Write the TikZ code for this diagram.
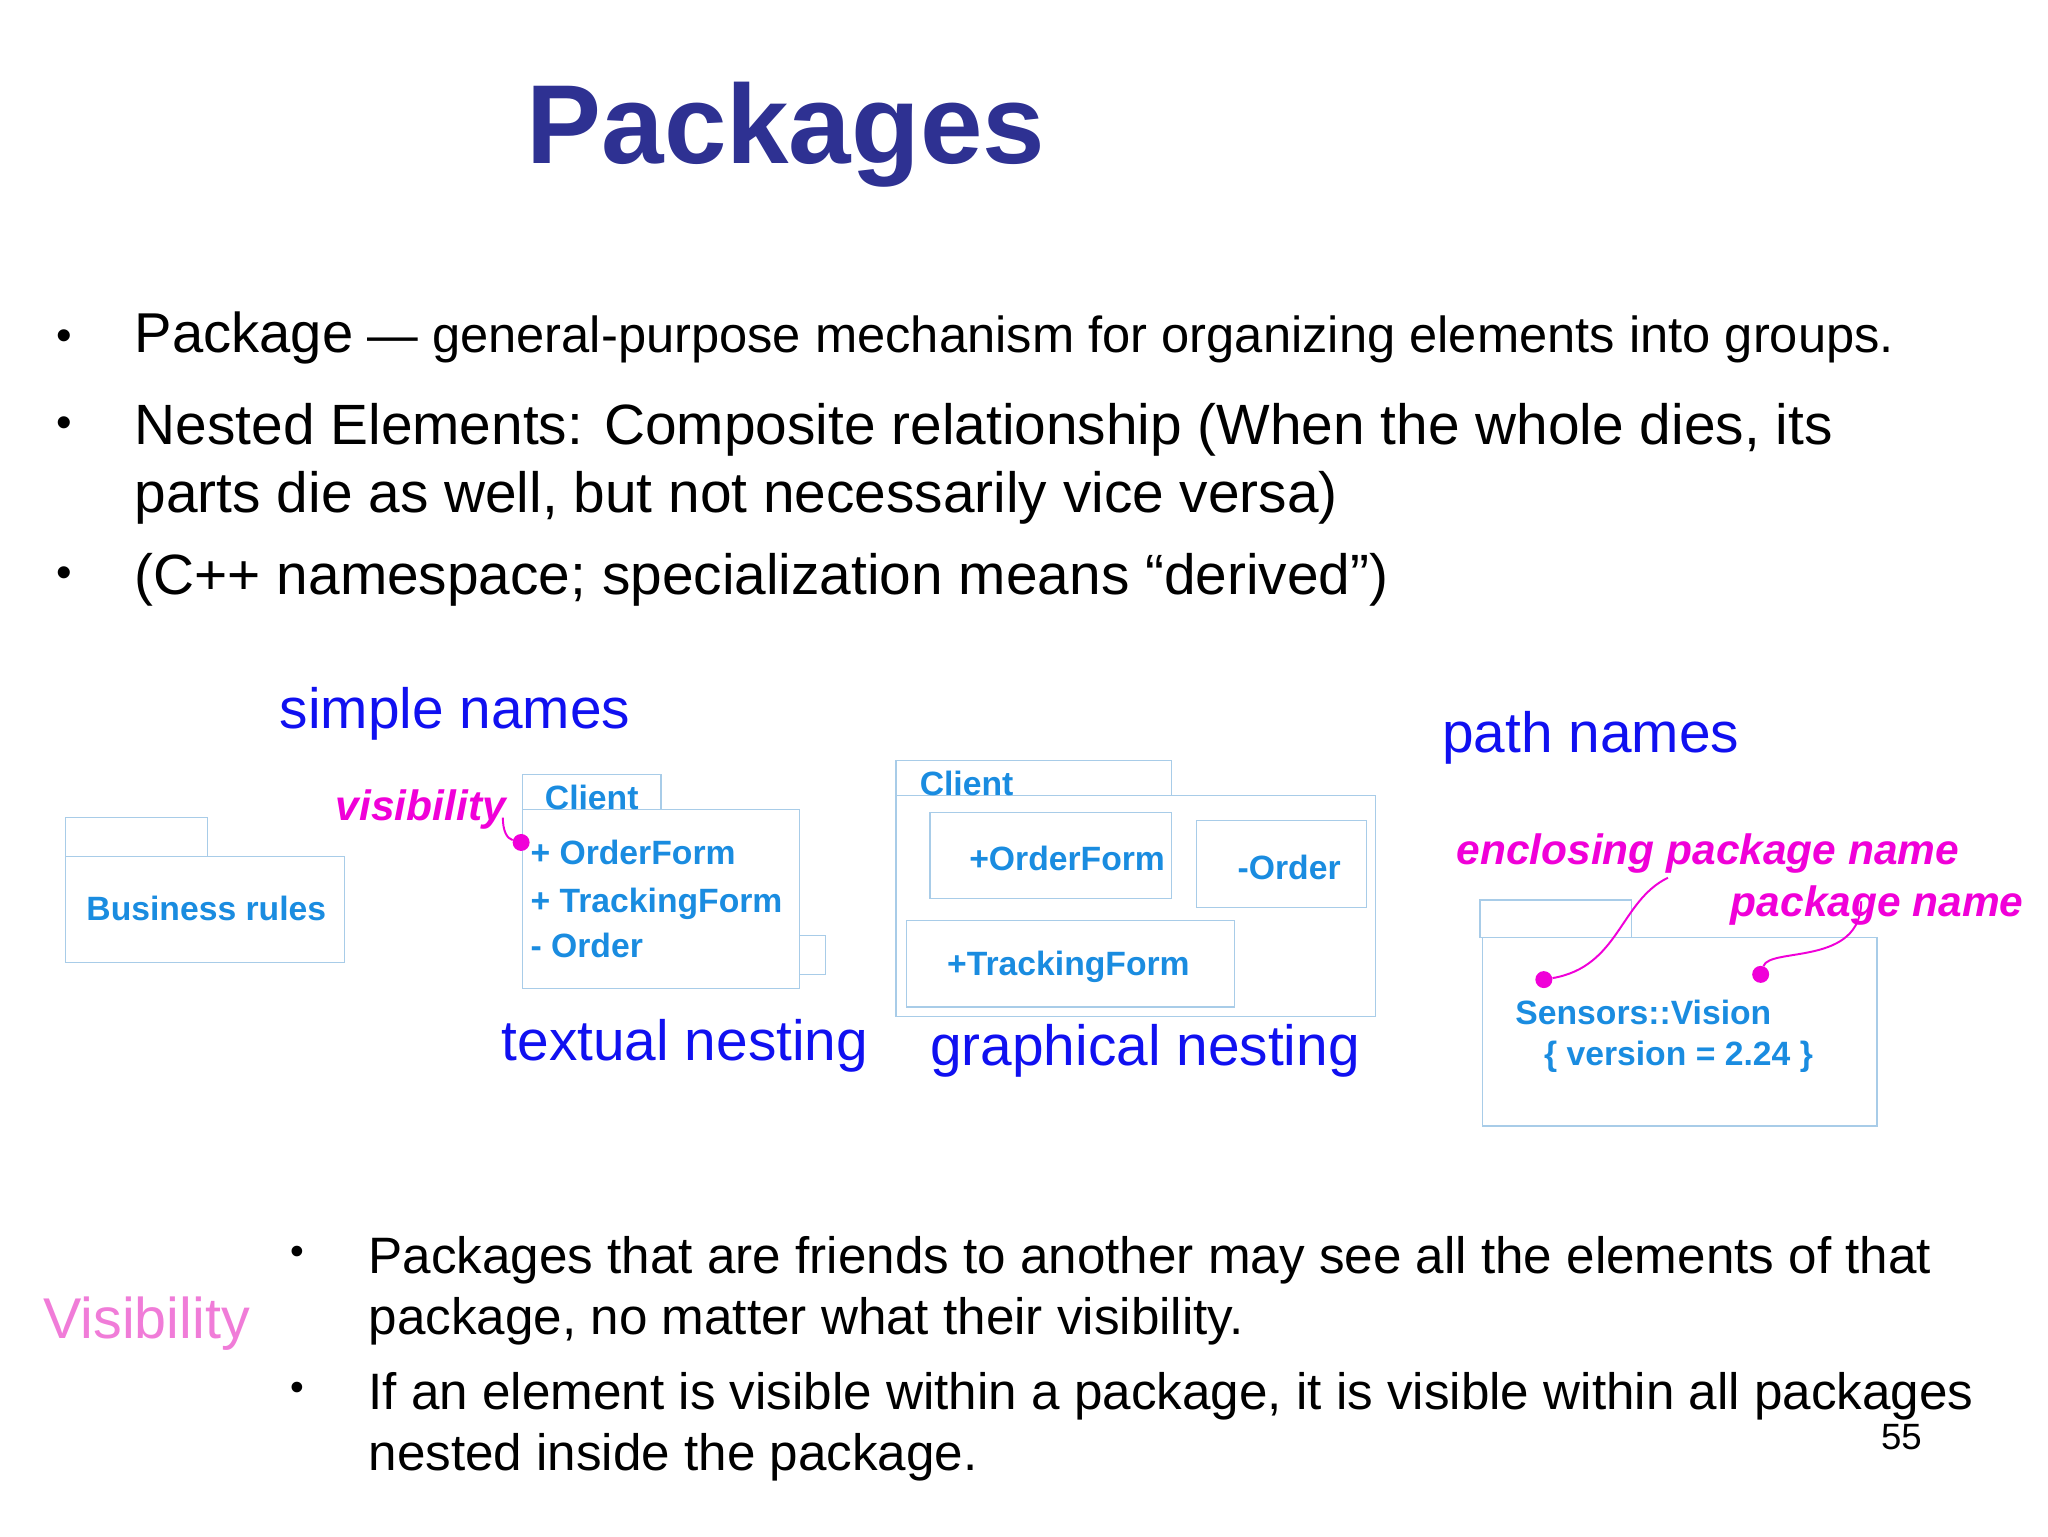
\documentclass[tikz,border=0pt]{standalone}
\usepackage{fontspec}
\setmainfont{Liberation Sans}
\definecolor{ttl}{HTML}{2E3192}
\definecolor{lbl}{HTML}{1010F0}
\definecolor{pk}{HTML}{A8CCE8}
\definecolor{ptxt}{HTML}{1A8CE0}
\definecolor{mag}{HTML}{F000D8}
\definecolor{vis}{HTML}{F07CD8}
\tikzset{
 t/.style={anchor=base west,inner sep=0pt},
 box/.style={draw=pk,line width=1pt},
 ptext/.style={t,text=ptxt,font=\fontsize{25.8}{30}\selectfont\bfseries},
 lab/.style={t,text=lbl,font=\fontsize{43.5}{48}\selectfont},
 mlab/.style={t,text=mag,font=\fontsize{32.5}{36}\selectfont\bfseries\itshape},
 body/.style={t,font=\fontsize{43.5}{50}\selectfont},
 body2/.style={t,font=\fontsize{39.2}{46}\selectfont},
 dot/.style={circle,fill=mag,inner sep=0pt,minimum size=13pt},
 conn/.style={mag,line width=1.5pt}
}
\begin{document}
\begin{tikzpicture}[x=1pt,y=-1pt]
\useasboundingbox (0,0) rectangle (1568,1176);
\node[t,text=ttl,font=\fontsize{86}{90}\selectfont\bfseries] (title) at (403,125) {Packages};
% bullets
\foreach \y in {268,335,450} \node[t,font=\fontsize{34}{34}\selectfont] at (43,\y) {•};
\node[t,font=\fontsize{43}{50}\selectfont] (b1) at (103,270) {Package\fontsize{38.8}{40}\selectfont{} — general-purpose mechanism for organizing elements into groups.};
\node[body] (b2) at (103,340) {Nested Elements: Composite relationship (When the whole dies, its};
\node[body] (b2b) at (103,392) {parts die as well, but not necessarily vice versa)};
\node[body] (b3) at (103,455) {(C++ namespace; specialization means “derived”)};
% labels
\node[lab] (sn) at (214,558) {simple names};
\node[lab] (pn) at (1104,576) {path names};
\node[lab] (tn) at (384,812) {textual nesting};
\node[lab] (gn) at (712,816) {graphical nesting};
% business rules
\draw[box] (50,626) rectangle (159,656);
\draw[box] (50,656) rectangle (264,737);
\node[ptext] (br) at (66,705) {Business rules};
% client textual
\draw[box] (400,593) rectangle (506,620);
\draw[box] (400,620) rectangle (612,757);
\draw[box] (612,716) rectangle (632,746);
\node[ptext] (c1) at (417,620) {Client};
\node[ptext] (of1) at (406,662) {+ OrderForm};
\node[ptext] (tf1) at (406,699) {+ TrackingForm};
\node[ptext] (o1) at (406,733) {- Order};
\node[mlab] (vl) at (257,628) {visibility};
\node[dot] (d1) at (399,645) {};
\draw[conn] (d1) .. controls (388,642) and (385,636) .. (385,626);
% graphical
\draw[box] (686,582) rectangle (897,609);
\draw[box] (686,609) rectangle (1053,778);
\node[ptext] (c2) at (704,609) {Client};
\draw[box] (712,622) rectangle (897,688);
\node[ptext,anchor=center] (of2) at (817,657) {+OrderForm};
\draw[box] (916,628) rectangle (1046,695);
\node[ptext,anchor=center] (o2) at (987,664) {-Order};
\draw[box] (694,705) rectangle (945,771);
\node[ptext,anchor=center] (tf2) at (818,740) {+TrackingForm};
% path names
\draw[box] (1133,689) rectangle (1249,718);
\draw[box] (1135,718) rectangle (1437,862);
\node[ptext] (sv) at (1160,784) {Sensors::Vision};
\node[ptext] (ver) at (1182,816) {\{ version = 2.24 \}};
\node[mlab] (epn) at (1115,662) {enclosing package name};
\node[mlab] (pkn) at (1325,702) {package name};
\node[dot] (d2) at (1182,750) {};
\node[dot] (d3) at (1348,746) {};
\draw[conn] (d2) .. controls (1240,740) and (1240,690) .. (1277,672);
\draw[conn] (d3) .. controls (1355,725) and (1425,740) .. (1425,690);
% visibility
\node[t,text=vis,font=\fontsize{44}{50}\selectfont] (vv) at (33,1025) {Visibility};
\foreach \y in {968,1072} \node[t,font=\fontsize{30}{30}\selectfont] at (222,\y) {•};
\node[body2] at (282,975) {Packages that are friends to another may see all the elements of that};
\node[body2] at (282,1022) {package, no matter what their visibility.};
\node[body2] at (282,1079) {If an element is visible within a package, it is visible within all packages};
\node[body2] at (282,1126) {nested inside the package.};
\node[t,font=\fontsize{28}{30}\selectfont] (pg) at (1440,1110) {55};
\end{tikzpicture}
\end{document}
